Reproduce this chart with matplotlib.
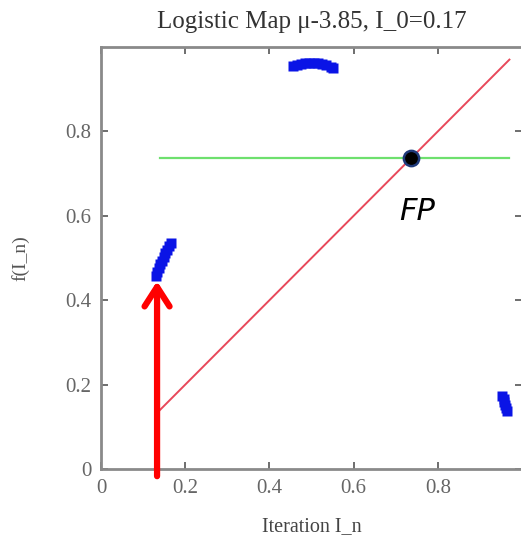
import matplotlib
matplotlib.use("Agg")
import matplotlib.pyplot as plt

# orbit points (I_n, I_{n+1}), three clusters
left_x = [0.130, 0.133, 0.137, 0.141, 0.145, 0.149, 0.153, 0.157, 0.161, 0.165]
left_y = [0.458, 0.466, 0.476, 0.486, 0.494, 0.502, 0.511, 0.520, 0.529, 0.536]
top_x = [0.455, 0.465, 0.475, 0.485, 0.495, 0.505, 0.515, 0.525, 0.535, 0.545, 0.552]
top_y = [0.954, 0.957, 0.960, 0.962, 0.963, 0.963, 0.962, 0.960, 0.957, 0.953, 0.950]
right_x = [0.953, 0.956, 0.958, 0.960, 0.962, 0.965]
right_y = [0.174, 0.166, 0.158, 0.151, 0.144, 0.137]

diag_x = [0.14, 0.97]
fp = 0.737
start = 0.133

title = "Logistic Map \u03bc-3.85, I_0=0.17"
ticks = [0, 0.2, 0.4, 0.6, 0.8]
tick_labels = ["0", "0.2", "0.4", "0.6", "0.8"]

fig = plt.figure(figsize=(5.21, 5.46), dpi=100)
ax = fig.add_axes([0.194, 0.141, 0.808, 0.773])

serif = "Liberation Serif"
gray = "#8a8a8a"

ax.plot(diag_x, diag_x, color="#e8485a", lw=1.4, zorder=2)
ax.plot(diag_x, [fp, fp], color="#6ee06e", lw=1.6, zorder=2)

for xs, ys in [(left_x, left_y), (top_x, top_y), (right_x, right_y)]:
    ax.plot(xs, ys, "s", color="#0a14e6", ms=6.5, mec="none", zorder=3)

ax.plot([fp], [fp], "o", color="black", ms=11, mec="#1f3a7a", mew=1.8, zorder=5)
ax.text(0.707, 0.59, "FP", fontsize=22, style="italic", family="DejaVu Sans",
        color="black")

ax.annotate("", xy=(start, 0.445), xytext=(start, -0.017),
            arrowprops=dict(arrowstyle="->,head_length=0.7,head_width=0.45",
                            color="#ff0000", lw=4.5, mutation_scale=20,
                            shrinkA=0, shrinkB=0),
            annotation_clip=False, zorder=6)

ax.set_xlim(0, 1)
ax.set_ylim(0, 1)
ax.set_xticks(ticks)
ax.set_xticklabels(tick_labels)
ax.set_yticks(ticks)
ax.set_yticklabels(tick_labels)
ax.tick_params(direction="in", top=True, right=True, length=5, width=1.2,
               color="#555555", labelsize=15, labelcolor="#666666", pad=7)
for lab in ax.get_xticklabels() + ax.get_yticklabels():
    lab.set_family(serif)
for sp in ax.spines.values():
    sp.set_color(gray)
    sp.set_linewidth(2)

ax.set_title(title, family=serif, fontsize=18, color="#333333", pad=14)
ax.set_xlabel("Iteration I_n", family=serif, fontsize=14.5, color="#444444", labelpad=14)
ax.set_ylabel("f(I_n)", family=serif, fontsize=14, color="#555555", labelpad=26)

fig.savefig("out.png", dpi=100)
